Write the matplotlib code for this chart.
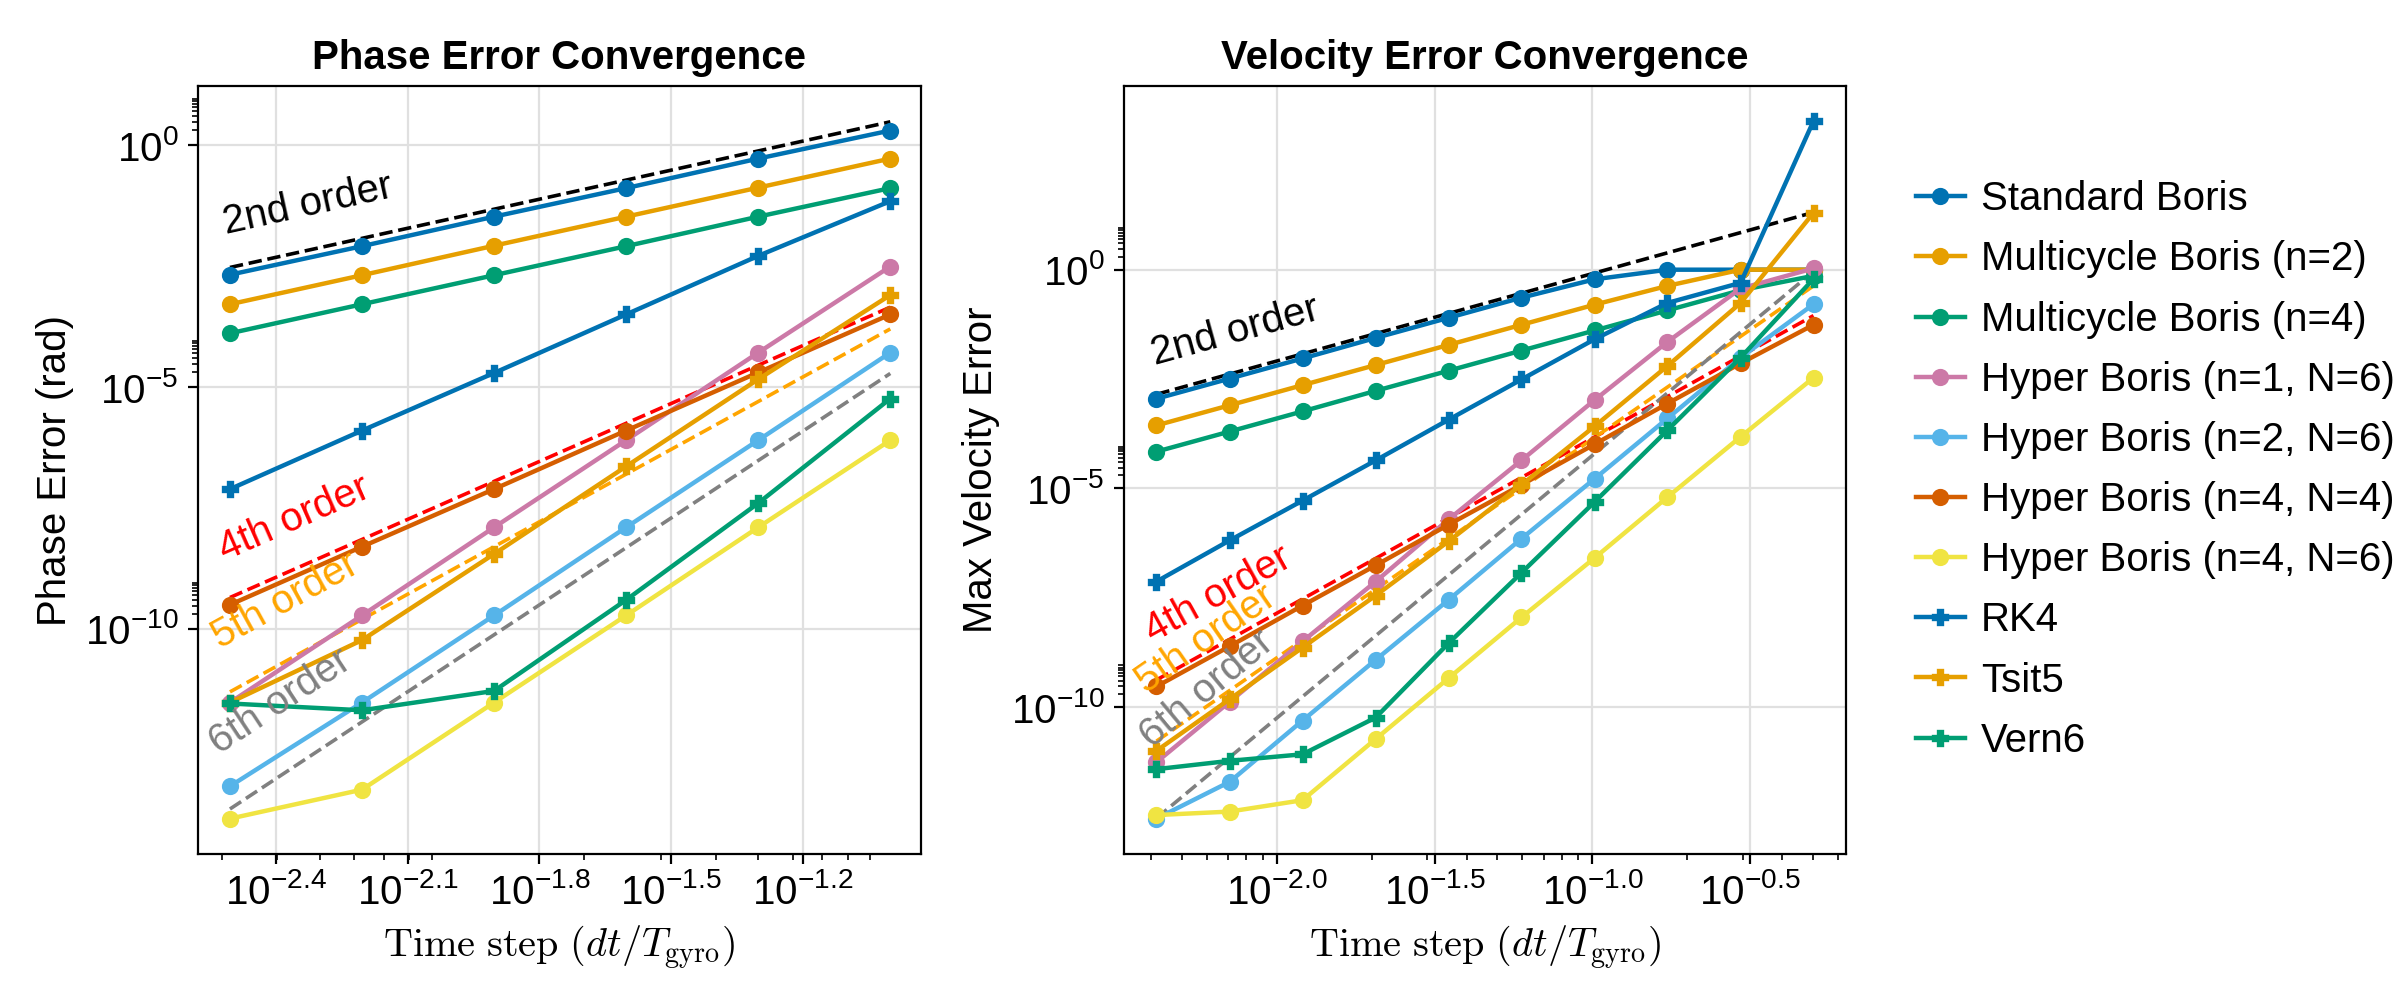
import numpy as np
import matplotlib
matplotlib.use("Agg")
import matplotlib.pyplot as plt
from matplotlib.lines import Line2D

plt.rcParams['font.family'] = ['Liberation Sans', 'DejaVu Sans']
plt.rcParams['mathtext.fontset'] = 'custom'
plt.rcParams['mathtext.rm'] = 'Liberation Sans'
plt.rcParams['mathtext.it'] = 'Liberation Sans:italic'

# ---- data (log10 values) ----
names = ['Standard Boris', 'Multicycle Boris (n=2)', 'Multicycle Boris (n=4)',
         'Hyper Boris (n=1, N=6)', 'Hyper Boris (n=2, N=6)', 'Hyper Boris (n=4, N=4)',
         'Hyper Boris (n=4, N=6)', 'RK4', 'Tsit5', 'Vern6']
colors = ['#0072B2', '#E69F00', '#009E73', '#CC79A7', '#56B4E9', '#D55E00',
          '#F0E442', '#0072B2', '#E69F00', '#009E73']
markers = ['o'] * 7 + ['P'] * 3

dt_phase = [1/320, 1/160, 1/80, 1/40, 1/20, 1/10]
phase_log = [
    [-2.68, -2.09, -1.48, -0.89, -0.28, 0.30],
    [-3.29, -2.69, -2.08, -1.48, -0.88, -0.28],
    [-3.89, -3.29, -2.69, -2.09, -1.48, -0.89],
    [-11.52, -9.72, -7.90, -6.10, -4.29, -2.51],
    [-13.25, -11.52, -9.72, -7.90, -6.10, -4.29],
    [-9.50, -8.30, -7.11, -5.90, -4.70, -3.50],
    [-13.92, -13.32, -11.52, -9.72, -7.90, -6.10],
    [-7.11, -5.90, -4.71, -3.50, -2.29, -1.16],
    [-11.52, -10.23, -8.45, -6.64, -4.84, -3.10],
    [-11.54, -11.68, -11.28, -9.40, -7.40, -5.24],
]

dt_vel_log = [-2.382, -2.150, -1.919, -1.687, -1.456, -1.225, -0.993, -0.762, -0.530, -0.299]
vel_log = [
    [-2.95, -2.49, -2.03, -1.56, -1.10, -0.64, -0.22, 0.0, 0.0, 0.0],
    [-3.56, -3.10, -2.64, -2.18, -1.72, -1.26, -0.80, -0.37, 0.0, 0.0],
    [-4.16, -3.70, -3.24, -2.77, -2.31, -1.85, -1.39, -0.93, -0.47, -0.14],
    [-11.26, -9.88, -8.50, -7.13, -5.71, -4.36, -2.98, -1.65, -0.43, 0.03],
    [-12.55, -11.71, -10.31, -8.92, -7.55, -6.15, -4.78, -3.40, -2.01, -0.79],
    [-9.53, -8.61, -7.68, -6.76, -5.83, -4.92, -3.99, -3.06, -2.14, -1.26],
    [-12.47, -12.39, -12.13, -10.73, -9.34, -7.95, -6.59, -5.20, -3.82, -2.47],
    [-7.13, -6.19, -5.28, -4.36, -3.43, -2.51, -1.59, -0.76, -0.30, 3.40],
    [-11.00, -9.82, -8.64, -7.45, -6.21, -4.92, -3.58, -2.20, -0.76, 1.30],
    [-11.42, -11.23, -11.08, -10.24, -8.54, -6.93, -5.31, -3.67, -2.01, -0.21],
]

order_labels = ['2nd order', '4th order', '5th order', '6th order']
order_colors = ['black', 'red', 'orange', 'gray']
# reference line start/end (log10 error)
phase_ref = [(-2.53, 0.48), (-9.35, -3.35), (-11.30, -3.80), (-13.72, -4.72)]
vel_ref = [(-2.85, 1.31), (-9.38, -1.05), (-10.78, -0.37), (-12.54, -0.04)]
# label anchor (log10 x, log10 y)
phase_lab = [(-2.51, -2.0), (-2.51, -8.75), (-2.52, -10.55), (-2.52, -12.75)]
vel_lab = [(-2.38, -2.35), (-2.38, -8.7), (-2.40, -9.85), (-2.38, -11.1)]

fig = plt.figure(figsize=(12, 5), dpi=200)
ax1 = fig.add_axes([198/2400, 1 - 854/1000, 723/2400, 768/1000])
ax2 = fig.add_axes([1124/2400, 1 - 854/1000, 722/2400, 768/1000])


def draw(ax, x, ys, ref, lab, xlim, ylim, xticks, ylabel, title):
    ax.set_xscale('log')
    ax.set_yscale('log')
    ax.set_xlim(10**xlim[0], 10**xlim[1])
    ax.set_ylim(10**ylim[0], 10**ylim[1])
    for k in range(len(names)):
        ax.plot(x, 10**np.array(ys[k]), color=colors[k], marker=markers[k],
                lw=1.6, ms=5, mew=1.2, label=names[k], zorder=3)
    fig.canvas.draw()
    for (y0, y1), (lx, ly), c, t in zip(ref, lab, order_colors, order_labels):
        ax.plot([x[0], x[-1]], [10**y0, 10**y1], '--', color=c, lw=1.3, zorder=2)
        p0 = ax.transData.transform((x[0], 10**y0))
        p1 = ax.transData.transform((x[-1], 10**y1))
        ang = np.degrees(np.arctan2(p1[1] - p0[1], p1[0] - p0[0]))
        ax.text(10**lx, 10**ly, t, color=c, fontsize=14.5, rotation=ang,
                rotation_mode='anchor', ha='left', va='bottom', zorder=4)
    ax.set_xticks([10**v for v in xticks])
    ax.set_xticklabels([r'$10^{%.1f}$' % v for v in xticks])
    ax.set_yticks([1, 1e-5, 1e-10])
    ax.set_yticklabels([r'$10^{0}$', r'$10^{-5}$', r'$10^{-10}$'])
    ax.set_yticks([m * 10.0**e for e in (0, -5, -10) for m in range(2, 10)], minor=True)
    ax.yaxis.set_minor_formatter(plt.NullFormatter())
    ax.xaxis.set_minor_formatter(plt.NullFormatter())
    ax.tick_params(labelsize=14.5)
    ax.grid(True, color='#e0e0e0', lw=0.8, zorder=0)
    ax.set_xlabel(r'$\mathrm{Time\ step}\ (dt/T_{\mathrm{gyro}})$', fontsize=14.5,
                  math_fontfamily='cm')
    ax.set_ylabel(ylabel, fontsize=14.5)
    ax.set_title(title, fontsize=14.5, fontweight='bold')


draw(ax1, dt_phase, phase_log, phase_ref, phase_lab, (-2.578, -0.930), (-14.65, 1.22),
     [-2.4, -2.1, -1.8, -1.5, -1.2], 'Phase Error (rad)', 'Phase Error Convergence')
draw(ax2, [10**v for v in dt_vel_log], vel_log, vel_ref, vel_lab, (-2.485, -0.196),
     (-13.36, 4.2), [-2.0, -1.5, -1.0, -0.5], 'Max Velocity Error', 'Velocity Error Convergence')

handles = [Line2D([], [], color=colors[k], marker=markers[k], lw=1.6, ms=5, mew=1.2)
           for k in range(len(names))]
fig.legend(handles, names, loc='center left', bbox_to_anchor=(1880/2400, 0.53),
           frameon=False, fontsize=14.5, handlelength=1.2, labelspacing=0.55,
           handletextpad=0.4)

fig.savefig('out.png', dpi=200)
